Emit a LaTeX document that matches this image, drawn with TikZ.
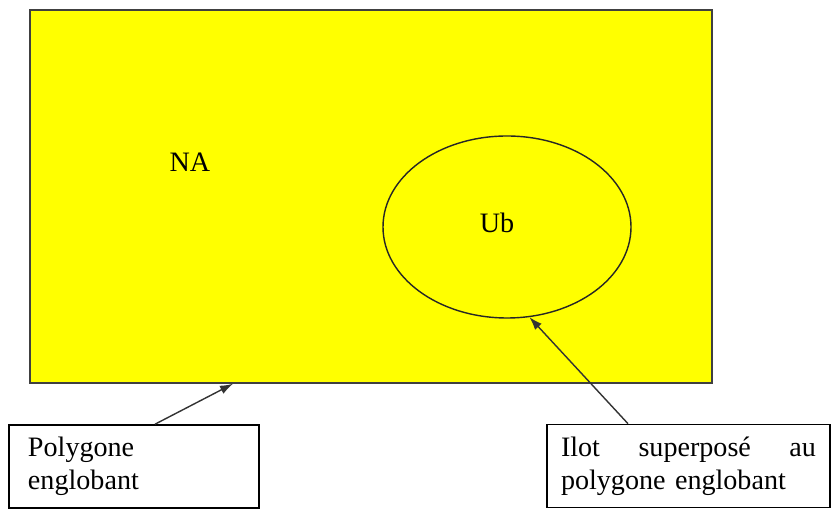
\documentclass[tikz,border=0pt]{standalone}
\usepackage{fontspec}
\setmainfont{Liberation Serif}
\usetikzlibrary{shapes.geometric,arrows.meta}
\definecolor{zoneyellow}{RGB}{255,255,0}
\tikzset{
  zonebox/.style={draw=black!75, line width=0.9pt, fill=zoneyellow, minimum width=13.64cm, minimum height=7.46cm, inner sep=0pt},
  ilotshape/.style={ellipse, draw=black!85, line width=0.8pt, minimum width=4.96cm, minimum height=3.64cm, inner sep=0pt},
  labelbox/.style={draw, line width=0.9pt, fill=white, minimum height=1.66cm, inner sep=0pt, align=left},
  pointer/.style={-{Latex[length=0.26cm,width=0.18cm]}, line width=0.8pt, black!80}
}
\begin{document}
\begin{tikzpicture}[font=\fontsize{16}{18.6}\selectfont]
    \useasboundingbox (0,0) rectangle (16.74,10.2);
    \node[zonebox] (zone) at (7.42,6.27) {};
    \node (na) at (3.8,6.96) {NA};
    \node[ilotshape] (ilot) at (10.14,5.66) {};
    \node (ub) at (9.94,5.74) {Ub};
    \node[labelbox, minimum width=5cm, text width=4.24cm] (polybox) at (2.68,0.87) {Polygone\\englobant};
    \node[labelbox, minimum width=5.66cm, text width=5.1cm] (ilotbox) at (13.77,0.88) {\makebox[5.1cm][s]{Ilot\hfill superposé\hfill au}\\polygone englobant};
    \draw[pointer] ([xshift=0.42cm]polybox.north) -- ([xshift=-2.76cm]zone.south);
    \draw[pointer] ([xshift=-1.21cm]ilotbox.north) -- (ilot.-76);
\end{tikzpicture}
\end{document}
